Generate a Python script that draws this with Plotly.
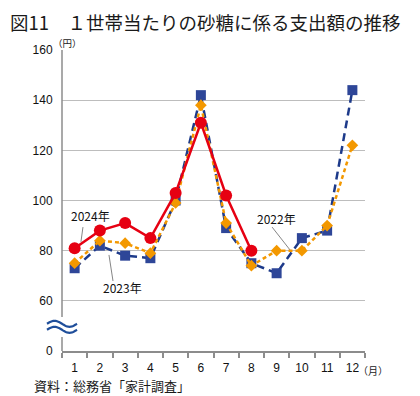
import numpy as np
import plotly.graph_objects as go

months = list(range(1, 13))
month_labels = [str(m) for m in months]
y2022 = [73, 82, 78, 77, 100, 142, 89, 75, 71, 85, 88, 144]
y2023 = [75, 84, 83, 79, 99, 138, 91, 74, 80, 80, 90, 122]
y2024 = [81, 88, 91, 85, 103, 131, 102, 80]

# axis break: value 40 on the internal scale is drawn as "0"
ytick_vals = [40, 60, 80, 100, 120, 140, 160]
ytick_text = ["0", "60", "80", "100", "120", "140", "160"]

RED = "#e60012"
ORANGE = "#f39800"
BLUE = "#2e4698"
BLUE_LINE = "#1d3a8a"
FONT_NUM = "Liberation Sans, Arial, sans-serif"
FONT_JP = "Noto Sans CJK JP, sans-serif"

fig = go.Figure()
fig.add_trace(go.Scatter(
    x=months, y=y2022, mode="lines+markers", name="2022年",
    line=dict(color=BLUE_LINE, width=2.5, dash="8px,5px"),
    marker=dict(symbol="square", size=10, color=BLUE, line=dict(width=0)),
))
fig.add_trace(go.Scatter(
    x=months, y=y2023, mode="lines+markers", name="2023年",
    line=dict(color=ORANGE, width=2.5, dash="4px,3px"),
    marker=dict(symbol="diamond", size=9, color=ORANGE, line=dict(width=0)),
))
fig.add_trace(go.Scatter(
    x=months[:len(y2024)], y=y2024, mode="lines+markers", name="2024年",
    line=dict(color=RED, width=2.5),
    marker=dict(symbol="circle", size=12, color=RED, line=dict(width=0)),
))

# page has an 8px body margin; work in page pixel coordinates
OFF = 8
PAGE_W, PAGE_H = 420, 396
W, H = PAGE_W - OFF, PAGE_H - OFF
PL, PR, PT, PB = 62, 365, 50, 351  # plot area in page pixels
L, T = PL - OFF, PT - OFF
R, B = PAGE_W - PR, PAGE_H - PB
pw, ph = PR - PL, PB - PT


def px(x):
    return (x - PL) / pw


def py(y):
    return (PB - y) / ph


shapes = []
# y axis line with a gap for the break
shapes.append(dict(type="line", xref="paper", yref="paper", x0=0, x1=0,
                   y0=1, y1=py(317), line=dict(color="#8c8c8c", width=1.5)))
shapes.append(dict(type="line", xref="paper", yref="paper", x0=0, x1=0,
                   y0=py(337), y1=0, line=dict(color="#8c8c8c", width=1.5)))
# wavy break marks
for yc in (323.8, 329.8):
    t = np.linspace(0, 1, 25)
    xs = 47 + 30 * t
    ys = yc - 3.0 * np.sin(2 * np.pi * t)
    path = "M " + " L ".join(f"{px(a):.5f},{py(b):.5f}" for a, b in zip(xs, ys))
    shapes.append(dict(type="path", xref="paper", yref="paper", path=path,
                       line=dict(color="#1f4e9a", width=2.2)))
# leader lines for series labels
leaders = [((1.33, 89.4), (1.25, 83.5)),
           ((2.36, 78.3), (2.52, 67.9)),
           ((8.82, 89.4), (9.53, 80.3))]
for (x0, y0), (x1, y1) in leaders:
    shapes.append(dict(type="line", xref="x", yref="y", x0=x0, y0=y0, x1=x1, y1=y1,
                       line=dict(color="#777777", width=0.9)))

annotations = [
    dict(text="図11　１世帯当たりの砂糖に係る支出額の推移", xref="paper", yref="paper",
         x=px(OFF + 1), y=py(OFF), xanchor="left", yanchor="top", showarrow=False,
         borderpad=0, font=dict(family=FONT_JP, size=18.5, color="#1a1a1a")),
    dict(text="（円）", xref="paper", yref="paper", x=px(67), y=py(35),
         xanchor="center", yanchor="top", showarrow=False, borderpad=0,
         font=dict(family=FONT_JP, size=9.5, color="#222")),
    dict(text="（月）", xref="paper", yref="paper", x=px(373), y=py(370),
         xanchor="center", yanchor="middle", showarrow=False,
         font=dict(family=FONT_JP, size=10, color="#222")),
    dict(text="資料：総務省「家計調査」", xref="paper", yref="paper", x=px(32), y=py(385),
         xanchor="left", yanchor="middle", showarrow=False,
         font=dict(family=FONT_JP, size=13, color="#1a1a1a")),
    dict(text="2024年", xref="x", yref="y", x=1.61, y=94.2, showarrow=False,
         xanchor="center", yanchor="middle", font=dict(family=FONT_JP, size=12, color="#111")),
    dict(text="2023年", xref="x", yref="y", x=2.88, y=65.5, showarrow=False,
         xanchor="center", yanchor="middle", font=dict(family=FONT_JP, size=12, color="#111")),
    dict(text="2022年", xref="x", yref="y", x=8.98, y=93.0, showarrow=False,
         xanchor="center", yanchor="middle", font=dict(family=FONT_JP, size=12, color="#111")),
]

fig.update_layout(
    width=W, height=H,
    margin=dict(l=L, r=R, t=T, b=B, pad=0),
    paper_bgcolor="white", plot_bgcolor="white",
    showlegend=False,
    shapes=shapes, annotations=annotations,
    xaxis=dict(
        range=[0.5, 12.5], tickvals=months, ticktext=month_labels,
        ticks="outside", ticklen=5, tickcolor="rgba(0,0,0,0)",
        showgrid=False, zeroline=False,
        showline=True, linecolor="#8c8c8c", linewidth=1.5,
        minor=dict(tick0=0.5, dtick=1, ticks="outside", ticklen=5,
                   tickcolor="#8c8c8c", tickwidth=1.5, showgrid=False),
        tickfont=dict(family=FONT_NUM, size=12, color="#111"),
        fixedrange=True,
    ),
    yaxis=dict(
        range=[40, 160], tickvals=ytick_vals, ticktext=ytick_text,
        ticks="outside", ticklen=6, tickcolor="rgba(0,0,0,0)",
        showgrid=True, gridcolor="#bdbdbd", gridwidth=1,
        zeroline=False, showline=False,
        tickfont=dict(family=FONT_NUM, size=12, color="#111"),
        fixedrange=True,
    ),
)

fig.write_html("out.html")
